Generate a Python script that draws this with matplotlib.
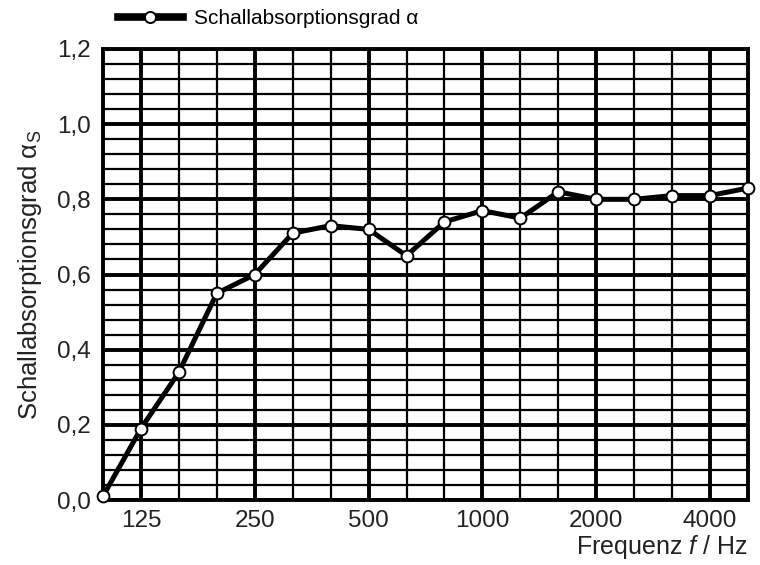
import numpy as np
import matplotlib.pyplot as plt
from matplotlib.ticker import FixedLocator, MultipleLocator

plt.rcParams['font.family'] = ['Liberation Sans', 'DejaVu Sans']
plt.rcParams['mathtext.fontset'] = 'custom'
plt.rcParams['mathtext.rm'] = 'Liberation Sans'
plt.rcParams['mathtext.it'] = 'Liberation Sans:italic'

# Terzband-Mittenfrequenzen
freqs = ['100', '125', '160', '200', '250', '315', '400', '500', '630',
         '800', '1000', '1250', '1600', '2000', '2500', '3150', '4000', '5000']
alpha = [0.01, 0.19, 0.34, 0.55, 0.60, 0.71, 0.73, 0.72, 0.65,
         0.74, 0.77, 0.75, 0.82, 0.80, 0.80, 0.81, 0.81, 0.83]
labeled = ['125', '250', '500', '1000', '2000', '4000']
y_ticks = [0.0, 0.2, 0.4, 0.6, 0.8, 1.0, 1.2]

x = np.arange(len(freqs))
major_x = [freqs.index(f) for f in labeled]
minor_x = [i for i in x if i not in major_x]

fig = plt.figure(figsize=(7.6, 5.65), dpi=100)
ax = fig.add_axes([103/760, 1 - 500/565, (748-103)/760, (500-49)/565])

ax.set_xlim(0, len(freqs) - 1)
ax.set_ylim(0, 1.2)

ax.xaxis.set_major_locator(FixedLocator(major_x))
ax.xaxis.set_minor_locator(FixedLocator(minor_x))
ax.set_xticklabels(labeled)
ax.set_yticks(y_ticks)
ax.set_yticklabels([('%.1f' % v).replace('.', ',') for v in y_ticks])
ax.yaxis.set_minor_locator(MultipleLocator(0.04))

ax.grid(which='major', color='black', lw=2.8)
ax.grid(which='minor', color='black', lw=1.6)
ax.set_axisbelow(True)
ax.tick_params(which='both', length=0, labelsize=17.5, colors='#222222')
ax.tick_params(axis='y', pad=9)
ax.tick_params(axis='x', pad=7)

for s in ax.spines.values():
    s.set_linewidth(2.8)

ax.plot(x, alpha, color='black', lw=3.6, marker='o', ms=8.5,
        mfc='white', mec='black', mew=1.4, clip_on=False, zorder=5,
        label='Schallabsorptionsgrad α')

ax.set_ylabel('Schallabsorptionsgrad α$_\\mathrm{S}$', fontsize=18.5,
              color='#222222', labelpad=9)
fig.text(748/760, 4/565, 'Frequenz $\\mathit{f}$ / Hz', ha='right', va='bottom',
         fontsize=18, color='#222222')

leg = ax.legend(loc='center left', bbox_to_anchor=(118/760, 1 - 19/565),
                bbox_transform=fig.transFigure, frameon=False,
                fontsize=15, handlelength=3.1, handletextpad=0.55,
                borderpad=0, borderaxespad=0)
for h in leg.legend_handles:
    h.set_linewidth(5.5)
    h.set_markersize(8)

fig.savefig('out.png', dpi=100)
